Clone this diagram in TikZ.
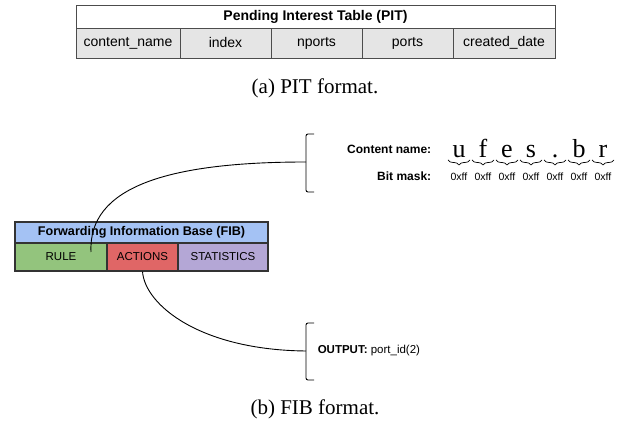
\documentclass[tikz,border=0pt]{standalone}
\usepackage{fontspec}
\setmainfont{Liberation Serif}
\newfontfamily\arial{Liberation Sans}
\usetikzlibrary{decorations.pathreplacing}
\definecolor{fibblue}{HTML}{A4C2F4}
\definecolor{fibgreen}{HTML}{93C47D}
\definecolor{fibred}{HTML}{E06666}
\definecolor{fibpurple}{HTML}{B4A7D6}
\tikzset{
  cell/.style={draw=black!70,inner sep=0pt,font=\arial\fontsize{14}{16}\selectfont},
  fcell/.style={draw=black!80,line width=1.2pt,inner sep=0pt,font=\arial\fontsize{11.5}{13}\selectfont},
  lbl/.style={anchor=east,font=\arial\bfseries\fontsize{12}{14}\selectfont},
  caption/.style={font=\fontsize{21}{24}\selectfont}
}

\begin{document}
\begin{tikzpicture}[x=1pt,y=-1pt,line width=0.9pt]
  \useasboundingbox (0,0) rectangle (638,435);
  % PIT table
  \node[cell,fill=white,minimum width=479,minimum height=23,font=\arial\bfseries\fontsize{14}{16}\selectfont] (pit) at (315.5,16.5) {Pending Interest Table (PIT)};
  \foreach \l/\r/\t [count=\i] in {76/180/content\_name, 180/271/index, 271/362/nports, 362/453/ports, 453/555/created\_date}
    \node[cell,fill=black!10,minimum width=\r-\l,minimum height=30] (pit\i) at ({(\l+\r)/2},43) {\t};
  \node[caption] (capa) at (315,88) {(a) PIT format.};

  % FIB table
  \node[fcell,fill=fibblue,minimum width=253,minimum height=21,font=\arial\bfseries\fontsize{12.6}{14}\selectfont] (fib) at (141.5,232.5) {Forwarding Information Base (FIB)};
  \node[fcell,fill=fibgreen,minimum width=92,minimum height=28] (rule) at (61,257) {RULE};
  \node[fcell,fill=fibred,minimum width=71,minimum height=28] (actions) at (142.5,257) {ACTIONS};
  \node[fcell,fill=fibpurple,minimum width=90,minimum height=28] (stats) at (223,257) {STATISTICS};

  % rule -> content name
  \coordinate (ruletip) at (91,252);
  \coordinate (br1) at (306,162);
  \draw (ruletip) .. controls (88,188) and (165,162) .. (br1);
  \draw[rounded corners=2] ([shift={(8,-28)}]br1) -- ([shift={(0,-28)}]br1) -- ([shift={(0,30)}]br1) -- ([shift={(8,30)}]br1);
  \node[lbl] (cname) at (435,149) {Content name:};
  \node[lbl] (bmask) at (435,176) {Bit mask:};
  \foreach \c [count=\i from 0] in {u,f,e,s,.,b,r} {
    \node[anchor=base,inner sep=0pt,font=\fontsize{26}{28}\selectfont] (ch\i) at (459+24*\i,158) {\c};
    \draw[line width=0.7pt,decorate,decoration={brace,amplitude=5,mirror}] (448+24*\i,160) -- (470+24*\i,160);
    \node[font=\arial\fontsize{10.5}{12}\selectfont] (mask\i) at (459+24*\i,177) {0xff};
  }

  % actions -> output
  \coordinate (br2) at (306,351);
  \draw (actions.south) .. controls (145,305) and (200,350) .. (br2);
  \draw[rounded corners=2] ([shift={(8,-28)}]br2) -- ([shift={(0,-28)}]br2) -- ([shift={(0,29)}]br2) -- ([shift={(8,29)}]br2);
  \node[anchor=west,font=\arial\fontsize{11.5}{13}\selectfont] (out) at (314,351) {\textbf{OUTPUT:} port\_id(2)};
  \node[caption] (capb) at (315,409) {(b) FIB format.};
\end{tikzpicture}
\end{document}
